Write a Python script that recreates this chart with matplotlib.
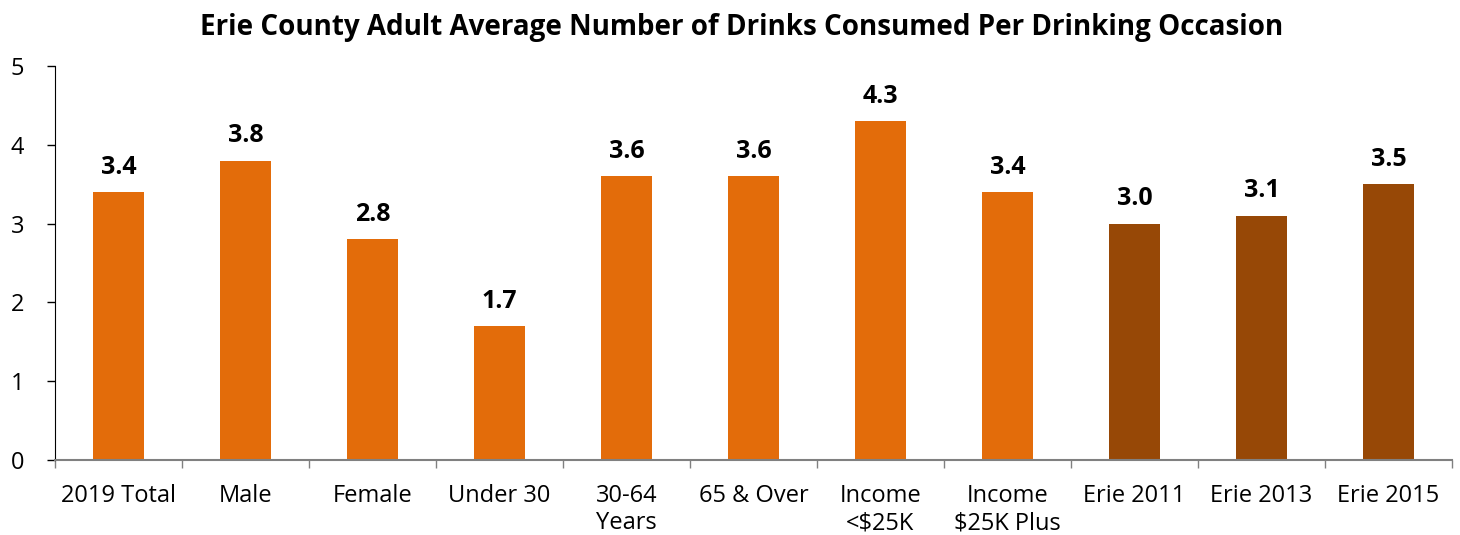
import numpy as np
import matplotlib.pyplot as plt

plt.rcParams['font.family'] = ['Open Sans', 'DejaVu Sans']

categories = ['2019 Total', 'Male', 'Female', 'Under 30', '30-64\nYears',
              '65 & Over', 'Income\n<$25K', 'Income\n$25K Plus',
              'Erie 2011', 'Erie 2013', 'Erie 2015']
values = [3.4, 3.8, 2.8, 1.7, 3.6, 3.6, 4.3, 3.4, 3.0, 3.1, 3.5]
bar_colors = ['#E36C0A'] * 8 + ['#974806'] * 3

fig = plt.figure(figsize=(14.6, 5.35), dpi=100)
ax = fig.add_axes([0.0377, 0.1402, 0.9568, 0.7364])

x = np.arange(len(categories))
ax.bar(x, values, width=0.4, color=bar_colors)

# value labels above bars
for xi, v in zip(x, values):
    ax.annotate('{:.1f}'.format(v), (xi, v), xytext=(0, 9),
                textcoords='offset points', ha='center', va='bottom',
                fontsize=18, fontweight='bold')

ax.set_xlim(-0.5, len(categories) - 0.5)
ax.set_ylim(0, 5)
ax.set_yticks(range(6))
ax.tick_params(axis='y', labelsize=17, length=6, width=1, direction='out', pad=16)

# category labels centred, tick marks on the boundaries
ax.set_xticks(x)
ax.set_xticklabels(categories, fontsize=17, linespacing=1.2)
ax.tick_params(axis='x', which='major', length=0, pad=17)
ax.set_xticks(np.arange(-0.5, len(categories)), minor=True)
ax.tick_params(axis='x', which='minor', length=6, width=1, color='#808080')

for side in ['top', 'right']:
    ax.spines[side].set_visible(False)
ax.spines['bottom'].set_color('#808080')
ax.spines['bottom'].set_linewidth(1.5)
ax.spines['left'].set_color('black')

fig.suptitle('Erie County Adult Average Number of Drinks Consumed Per Drinking Occasion',
             x=0.508, y=0.975, fontsize=20, fontweight='bold')

fig.savefig('out.png', dpi=100)
